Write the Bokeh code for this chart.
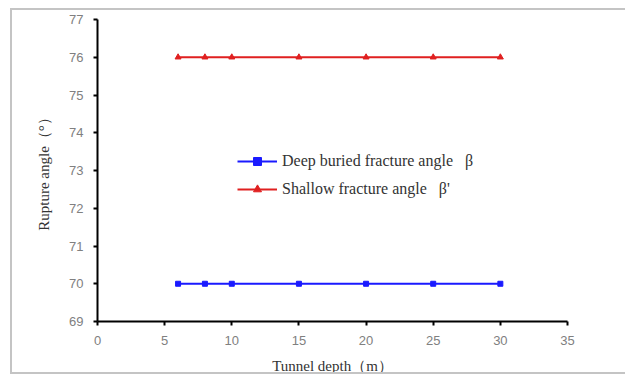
from bokeh.plotting import figure
from bokeh.models import Range1d, Legend, LegendItem, FixedTicker
from bokeh.embed import file_html
from bokeh.resources import INLINE

depth = [6, 8, 10, 15, 20, 25, 30]
deep_angle = [70, 70, 70, 70, 70, 70, 70]
shallow_angle = [76, 76, 76, 76, 76, 76, 76]
x_ticks = [0, 5, 10, 15, 20, 25, 30, 35]
y_ticks = [69, 70, 71, 72, 73, 74, 75, 76, 77]

p = figure(width=615, height=366, output_backend="svg", toolbar_location=None,
           x_range=Range1d(0, 35), y_range=Range1d(69, 77),
           min_border_left=85, min_border_right=60, min_border_top=9, min_border_bottom=54)
p.styles = {"margin-left": "10px", "margin-top": "8px",
            "border-left": "2px solid #c4c4c4", "border-top": "2px solid #c4c4c4",
            "border-bottom": "2px solid #c4c4c4"}
p.outline_line_color = None
p.grid.visible = False
p.background_fill_color = "white"
p.border_fill_color = "white"

for ax in (p.xaxis[0], p.yaxis[0]):
    ax.axis_line_color = "black"
    ax.axis_line_width = 2
    ax.major_tick_line_color = "black"
    ax.major_tick_line_width = 2
    ax.major_tick_out = 4
    ax.major_tick_in = 0
    ax.minor_tick_line_color = None
    ax.major_label_text_font = "Liberation Sans"
    ax.major_label_text_font_size = "13px"
    ax.major_label_text_color = "#808080"
    ax.axis_label_text_font = "Liberation Serif"
    ax.axis_label_text_font_size = "15px"
    ax.axis_label_text_font_style = "normal"
    ax.axis_label_text_color = "#333333"

p.xaxis.ticker = FixedTicker(ticks=x_ticks)
p.yaxis.ticker = FixedTicker(ticks=y_ticks)
p.xaxis.axis_label = "Tunnel depth（m）"
p.yaxis.axis_label = "Rupture angle（°）"
p.xaxis.major_label_standoff = 10
p.yaxis.major_label_standoff = 10
p.xaxis.axis_label_standoff = 10
p.yaxis.axis_label_standoff = 14

l1 = p.line(depth, deep_angle, line_color="#1a1aff", line_width=2)
s1 = p.scatter(depth, deep_angle, marker="square", size=5, color="#1a1aff")
l2 = p.line(depth, shallow_angle, line_color="#e02020", line_width=2)
s2 = p.scatter(depth, shallow_angle, marker="triangle", size=6, color="#e02020")

legend = Legend(items=[
    LegendItem(label="Deep buried fracture angle   β", renderers=[l1, s1]),
    LegendItem(label="Shallow fracture angle   β'", renderers=[l2, s2]),
], location=(140, 122))
legend.border_line_color = None
legend.background_fill_alpha = 0
legend.label_text_font = "Liberation Serif"
legend.label_text_font_size = "16px"
legend.label_text_color = "#333333"
legend.glyph_width = 40
legend.glyph_height = 20
legend.label_height = 20
legend.spacing = 8
legend.padding = 2
p.add_layout(legend, "center")

open("out.html", "w").write(file_html(p, INLINE))
